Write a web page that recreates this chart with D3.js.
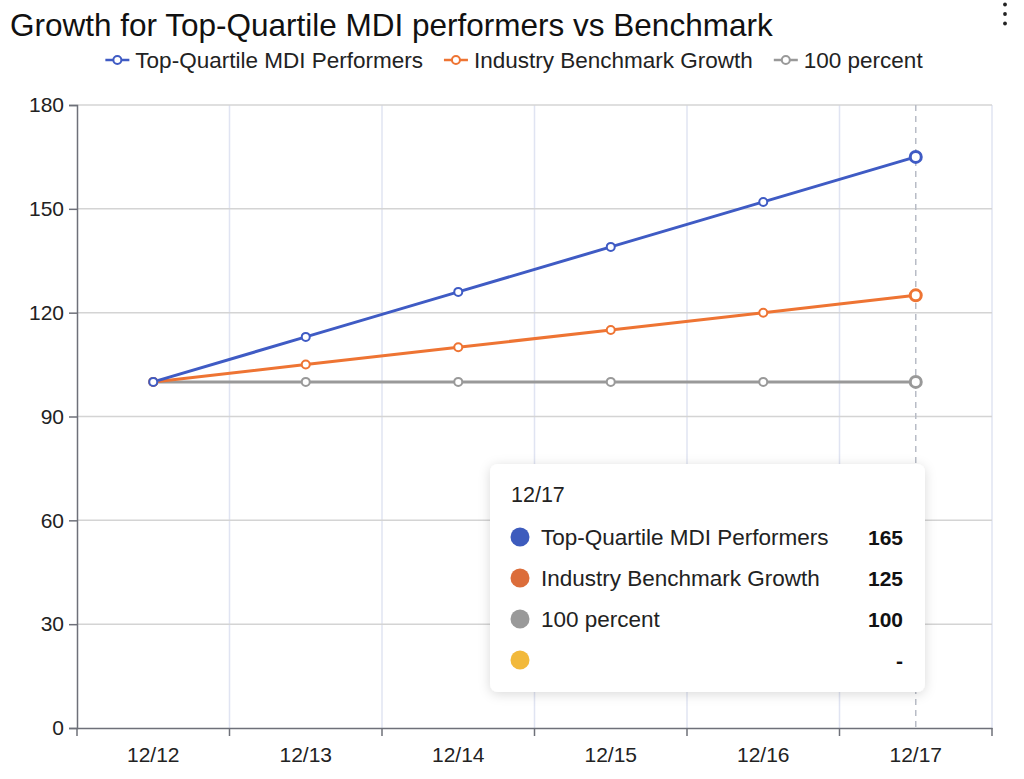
<!DOCTYPE html>
<html>
<head>
<meta charset="utf-8">
<script src="https://cdn.jsdelivr.net/npm/d3@7"></script>
<style>
  body { margin: 0; background: #fff; font-family: "Liberation Sans", Arial, Helvetica, sans-serif; }
  svg { display: block; }
</style>
</head>
<body>
<svg id="chart"></svg>
<script>
// data
const categories = ["12/12", "12/13", "12/14", "12/15", "12/16", "12/17"];
const topQuartile = [100, 113, 126, 139, 152, 165];
const benchmark = [100, 105, 110, 115, 120, 125];
const hundred = [100, 100, 100, 100, 100, 100];
const yTicks = [0, 30, 60, 90, 120, 150, 180];

const series = [
  {name: "Top-Quartile MDI Performers", values: topQuartile, color: "#3f5bc4", dot: "#3d5bbd"},
  {name: "Industry Benchmark Growth", values: benchmark, color: "#ee7433", dot: "#dc6d3a"},
  {name: "100 percent", values: hundred, color: "#999999", dot: "#999999"}
];

const width = 1024, height = 779;
const margin = {top: 105, right: 32, bottom: 51, left: 77};
const innerW = width - margin.left - margin.right;
const innerH = height - margin.top - margin.bottom;

const svg = d3.select("#chart")
  .attr("width", width)
  .attr("height", height);

// title
svg.append("text")
  .attr("x", 10)
  .attr("y", 36)
  .style("font-size", "31.5px")
  .attr("fill", "#111")
  .text("Growth for Top-Quartile MDI performers vs Benchmark");

// menu dots
[4.5, 14, 23.5].forEach(cy => {
  svg.append("circle").attr("cx", 1005).attr("cy", cy).attr("r", 1.9).attr("fill", "#222");
});

// legend
const legend = svg.append("g");
let lx = 0;
series.forEach(s => {
  const g = legend.append("g").attr("transform", `translate(${lx},0)`);
  g.append("line").attr("x1", 0).attr("x2", 24).attr("y1", 0).attr("y2", 0)
    .attr("stroke", s.color).attr("stroke-width", 2.5);
  g.append("circle").attr("cx", 12).attr("cy", 0).attr("r", 4)
    .attr("fill", "#fff").attr("stroke", s.color).attr("stroke-width", 2);
  const t = g.append("text").attr("x", 30).attr("y", 7.5)
    .style("font-size", "22.5px").attr("fill", "#222").text(s.name);
  lx += 30 + t.node().getComputedTextLength() + 21;
});
legend.attr("transform", `translate(${(width - (lx - 21)) / 2 + 2},60)`);

const vis = svg.append("g")
  .attr("transform", `translate(${margin.left},${margin.top})`);

const x = d3.scaleBand()
  .domain(categories)
  .range([0, innerW]);

const y = d3.scaleLinear()
  .domain([0, 180])
  .range([innerH, 0]);

// vertical grid at band boundaries
const bounds = categories.map(c => x(c)).concat([innerW]);
vis.append("g").selectAll("line")
  .data(bounds.slice(1))
  .enter().append("line")
  .attr("x1", d => d).attr("x2", d => d)
  .attr("y1", 0).attr("y2", innerH)
  .attr("stroke", "#e0e4f2").attr("stroke-width", 1.5);

// horizontal grid
vis.append("g").selectAll("line")
  .data(yTicks.slice(1))
  .enter().append("line")
  .attr("x1", 0).attr("x2", innerW)
  .attr("y1", d => y(d)).attr("y2", d => y(d))
  .attr("stroke", "#d4d4d4").attr("stroke-width", 1.5);

// y axis
const yAxis = vis.append("g")
  .call(d3.axisLeft(y).tickValues(yTicks).tickSize(8).tickPadding(5));
yAxis.select(".domain").attr("stroke", "#6e7079").attr("stroke-width", 1.5);
yAxis.selectAll(".tick line").attr("stroke", "#6e7079").attr("stroke-width", 1.5);
yAxis.selectAll(".tick text").style("font-size", "21px").attr("fill", "#222")
  .style("font-family", "Liberation Sans, Arial, sans-serif");

// x axis
const xAxis = vis.append("g")
  .attr("transform", `translate(0,${innerH})`)
  .call(d3.axisBottom(x).tickSize(0).tickPadding(19));
xAxis.select(".domain").attr("stroke", "#6e7079").attr("stroke-width", 1.5);
xAxis.selectAll(".tick text").style("font-size", "21px").attr("fill", "#222")
  .style("font-family", "Liberation Sans, Arial, sans-serif");
vis.append("g").selectAll("line")
  .data(bounds)
  .enter().append("line")
  .attr("x1", d => d).attr("x2", d => d)
  .attr("y1", innerH).attr("y2", innerH + 8)
  .attr("stroke", "#6e7079").attr("stroke-width", 1.5);

// pointer line on last category
const cx = c => x(c) + x.bandwidth() / 2;
const last = categories[categories.length - 1];
vis.append("line")
  .attr("x1", cx(last)).attr("x2", cx(last))
  .attr("y1", 0).attr("y2", innerH)
  .attr("stroke", "#b8bcc6").attr("stroke-width", 1.5)
  .attr("stroke-dasharray", "6,5");

// lines and points
const line = d3.line()
  .x((d, i) => cx(categories[i]))
  .y(d => y(d));

series.slice().reverse().forEach(s => {
  vis.append("path")
    .datum(s.values)
    .attr("fill", "none")
    .attr("stroke", s.color)
    .attr("stroke-width", 3)
    .attr("d", line);
});
series.slice().reverse().forEach(s => {
  vis.append("g").selectAll("circle")
    .data(s.values)
    .enter().append("circle")
    .attr("cx", (d, i) => cx(categories[i]))
    .attr("cy", d => y(d))
    .attr("r", (d, i) => i === categories.length - 1 ? 5.5 : 4)
    .attr("fill", "#fff")
    .attr("stroke", s.color)
    .attr("stroke-width", (d, i) => i === categories.length - 1 ? 3 : 2);
});

// tooltip
const defs = svg.append("defs");
const f = defs.append("filter").attr("id", "shadow")
  .attr("x", "-10%").attr("y", "-10%").attr("width", "120%").attr("height", "130%");
f.append("feDropShadow").attr("dx", 0).attr("dy", 2).attr("stdDeviation", 6)
  .attr("flood-color", "#000").attr("flood-opacity", 0.15);

const tip = svg.append("g").attr("transform", "translate(490,464)");
tip.append("rect")
  .attr("width", 435).attr("height", 228).attr("rx", 8)
  .attr("fill", "#fff").attr("filter", "url(#shadow)");
tip.append("text").attr("x", 21).attr("y", 38)
  .style("font-size", "21.5px").attr("fill", "#222").text(last);

const tipRows = series.map(s => ({name: s.name, color: s.dot, value: s.values[s.values.length - 1]}))
  .concat([{name: "", color: "#f2b93b", value: "-"}]);
tipRows.forEach((r, i) => {
  const ry = 73 + i * 41;
  tip.append("circle").attr("cx", 30).attr("cy", ry).attr("r", 9.5).attr("fill", r.color);
  tip.append("text").attr("x", 51).attr("y", ry + 8)
    .style("font-size", "22.5px").attr("fill", "#222").text(r.name);
  tip.append("text").attr("x", 413).attr("y", ry + 8)
    .attr("text-anchor", "end").style("font-size", "21px").style("font-weight", "bold")
    .attr("fill", "#111").text(r.value);
});
</script>
</body>
</html>
